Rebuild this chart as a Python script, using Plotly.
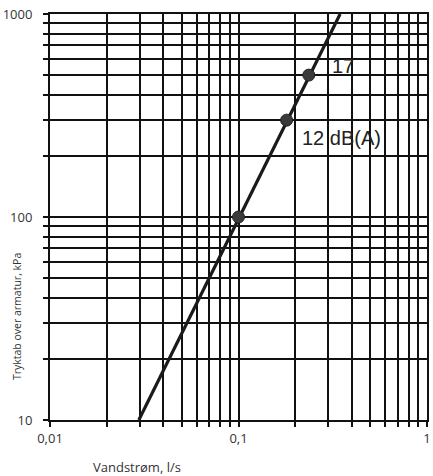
import math
import plotly.graph_objects as go

# Data
line_flow = [0.0296, 0.346]          # l/s
line_pressure = [10, 1000]           # kPa
point_flow = [0.1, 0.18, 0.236]
point_pressure = [100, 300, 500]
label_texts = ["17", "12 dB(A)"]
label_flow = [0.306, 0.213]
label_pressure = [555, 245]

x_tickvals = [0.01, 0.02, 0.03, 0.04, 0.05, 0.06, 0.07, 0.08, 0.09,
              0.1, 0.2, 0.3, 0.4, 0.5, 0.6, 0.7, 0.8, 0.9, 1]
x_ticktext = ["0,01"] + [""] * 8 + ["0,1"] + [""] * 8 + ["1"]
y_tickvals = [10, 20, 30, 40, 50, 60, 70, 80, 90,
              100, 200, 300, 400, 500, 600, 700, 800, 900, 1000]
y_ticktext = ["10"] + [""] * 8 + ["100"] + [""] * 8 + ["1000"]

x_title = "Vandstrøm, l/s"
y_title = "Tryktab over armatur, kPa"

fig = go.Figure()
fig.add_trace(go.Scatter(x=line_flow, y=line_pressure, mode="lines",
                         line=dict(color="#1a1a1a", width=3.2),
                         showlegend=False, hoverinfo="skip"))
fig.add_trace(go.Scatter(x=point_flow, y=point_pressure, mode="markers",
                         marker=dict(color="#3a3a3a", size=12,
                                     line=dict(color="#222", width=1)),
                         showlegend=False))

for t, xv, yv in zip(label_texts, label_flow, label_pressure):
    fig.add_annotation(x=math.log10(xv), y=math.log10(yv),
                       xref="x", yref="y", text=t, showarrow=False,
                       xanchor="left", yanchor="middle",
                       font=dict(family="Liberation Sans, Arial", size=20, color="#222"))

fig.add_annotation(x=0.231, y=-0.116, xref="paper", yref="paper", text=x_title,
                   showarrow=False, xanchor="center", yanchor="middle",
                   font=dict(family="Open Sans", size=13, color="#333"))
fig.add_annotation(x=-0.087, y=0.254, xref="paper", yref="paper", text=y_title,
                   showarrow=False, textangle=-90, xanchor="center", yanchor="middle",
                   font=dict(family="Open Sans", size=10.5, color="#333"))

axis_common = dict(showgrid=True, gridcolor="#111", gridwidth=1.8,
                   showline=True, linecolor="#111", linewidth=2, mirror=True,
                   ticks="outside", ticklen=5, tickwidth=1.8, tickcolor="#111",
                   zeroline=False, ticklabeloverflow="allow",
                   tickfont=dict(family="Open Sans", size=13, color="#333"))

fig.update_xaxes(type="log", range=[-2, 0], tickmode="array",
                 tickvals=x_tickvals, ticktext=x_ticktext, **axis_common)
fig.update_yaxes(type="log", range=[1, 3], tickmode="array",
                 tickvals=y_tickvals, ticktext=y_ticktext,
                 ticklabelstandoff=8, **axis_common)

fig.update_layout(width=433, height=476,
                  margin=dict(l=50, r=2, t=14, b=56),
                  paper_bgcolor="white", plot_bgcolor="white")

fig.write_html("out.html",
               config={"displayModeBar": False},
               post_script="document.body.style.margin='0px';"
                           "document.body.style.overflow='hidden';")
